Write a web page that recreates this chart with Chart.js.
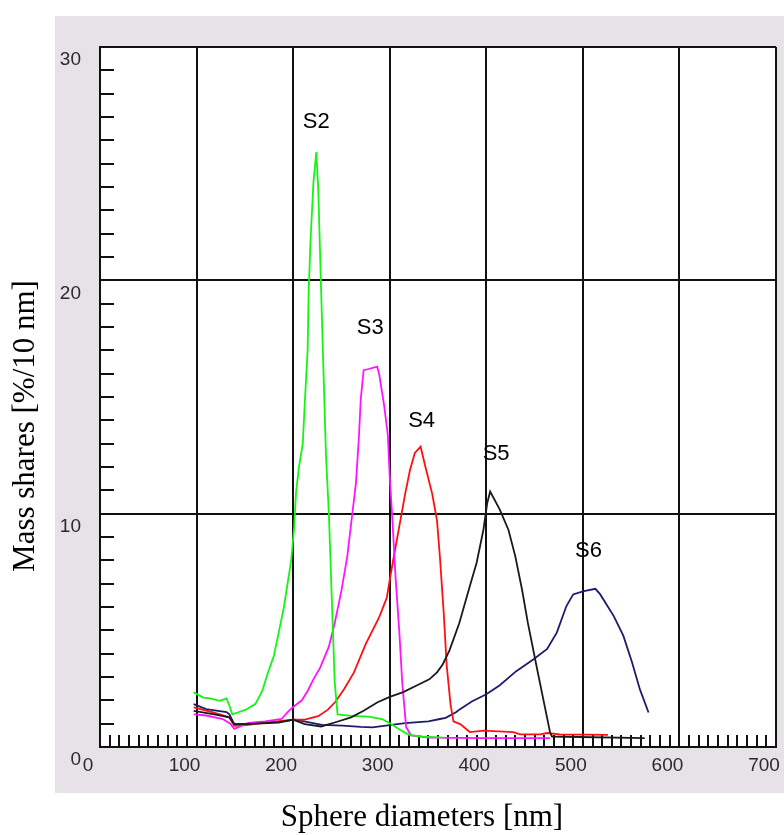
<!DOCTYPE html>
<html>
<head>
<meta charset="utf-8">
<title>Mass shares by sphere diameter</title>
<script src="https://cdn.jsdelivr.net/npm/chart.js@4"></script>
<style>
  html, body { margin: 0; padding: 0; background: #fff; }
  #sizeChart { display: block; }
</style>
</head>
<body>
<canvas id="sizeChart" width="784" height="835"></canvas>
<script>
// sample names, in drawing order (first one ends up on top)
const sampleNames = ['S5', 'S2', 'S3', 'S4', 'S6'];

// diameters [nm] and mass shares [%/10 nm] per sample
const s2Diameters = [97, 107, 114, 124, 131, 134, 137, 144, 151, 161, 168, 174, 180, 185, 190, 195, 198, 201, 203, 206, 210, 212, 215, 216, 218, 221, 224, 226, 228, 230, 232, 234, 237, 239, 241, 243, 246, 260, 278, 292, 301, 311, 320, 333, 356];
const s2Shares    = [2.34, 2.12, 2.08, 1.98, 2.08, 1.77, 1.4, 1.5, 1.6, 1.85, 2.4, 3.2, 3.9, 4.9, 5.9, 7.2, 8.0, 9.4, 10.9, 12.0, 13.0, 14.7, 17.0, 19.4, 21.7, 24.2, 25.5, 23.9, 21.0, 18.1, 15.3, 12.5, 10.0, 7.6, 5.2, 2.8, 1.4, 1.33, 1.3, 1.2, 1.0, 0.73, 0.52, 0.45, 0.4];

const s3Diameters = [97, 110, 127, 135, 139, 154, 171, 188, 195, 201, 209, 215, 221, 228, 237, 243, 250, 256, 261, 265, 268, 270, 273, 278, 287, 289, 294, 298, 300, 303, 306, 310, 313, 317, 322, 340, 400, 466];
const s3Shares    = [1.4, 1.35, 1.2, 1.0, 0.78, 1.03, 1.1, 1.2, 1.53, 1.75, 2.0, 2.4, 2.9, 3.4, 4.3, 5.3, 6.7, 8.15, 9.9, 11.3, 13.2, 14.9, 16.15, 16.2, 16.3, 16.0, 14.7, 13.4, 11.6, 9.6, 7.3, 4.9, 2.74, 0.86, 0.5, 0.4, 0.38, 0.38];

const s4Diameters = [97, 117, 134, 139, 151, 178, 200, 212, 226, 236, 244, 253, 263, 275, 289, 297, 301, 306, 311, 316, 321, 326, 332, 337, 344, 349, 352, 356, 359, 363, 366, 373, 383, 397, 428, 435, 456, 463, 476, 526];
const s4Shares    = [1.7, 1.48, 1.27, 0.91, 0.94, 1.08, 1.17, 1.17, 1.32, 1.6, 1.95, 2.5, 3.2, 4.4, 5.55, 6.4, 7.4, 8.56, 9.7, 10.85, 11.87, 12.6, 12.87, 12.0, 10.85, 9.7, 8.13, 5.7, 3.5, 1.82, 1.1, 0.98, 0.64, 0.7, 0.64, 0.54, 0.54, 0.6, 0.54, 0.52];

const s5Diameters = [97, 117, 134, 139, 151, 185, 200, 212, 229, 243, 260, 273, 287, 300, 314, 330, 341, 349, 355, 362, 372, 383, 390, 397, 401, 404, 414, 423, 430, 437, 443, 452, 459, 466, 468, 564];
const s5Shares    = [1.55, 1.41, 1.27, 0.98, 0.98, 1.05, 1.17, 0.98, 0.88, 1.05, 1.27, 1.55, 1.91, 2.15, 2.35, 2.68, 2.9, 3.2, 3.55, 4.15, 5.3, 6.9, 7.9, 9.3, 10.46, 10.95, 10.17, 9.3, 8.18, 6.75, 5.33, 3.47, 2.05, 0.63, 0.45, 0.38];

const s6Diameters = [97, 110, 131, 134, 139, 144, 185, 202, 230, 251, 270, 282, 296, 316, 340, 352, 358, 369, 372, 385, 400, 414, 431, 449, 463, 473, 483, 490, 501, 513, 518, 532, 542, 551, 559, 568];
const s6Shares    = [1.84, 1.62, 1.5, 1.4, 0.98, 0.98, 1.08, 1.17, 0.95, 0.92, 0.86, 0.84, 0.92, 1.02, 1.1, 1.2, 1.25, 1.5, 1.6, 1.95, 2.26, 2.65, 3.25, 3.76, 4.2, 4.9, 6.04, 6.54, 6.68, 6.78, 6.54, 5.61, 4.76, 3.62, 2.48, 1.48];

// axis ticks
const diameterTicks = [0, 100, 200, 300, 400, 500, 600, 700];
const shareTicks = [0, 10, 20, 30];

const sampleData = {
    S2: [s2Diameters, s2Shares],
    S3: [s3Diameters, s3Shares],
    S4: [s4Diameters, s4Shares],
    S5: [s5Diameters, s5Shares],
    S6: [s6Diameters, s6Shares]
};
const sampleColors = { S2: '#14f514', S3: '#ff14ff', S4: '#ff1010', S5: '#1a1a1a', S6: '#1c1c6e' };
// pixel nudge of each peak label, measured from the peak point
const labelNudge = { S2: [0, -30], S3: [-7, -39], S4: [1, -26], S5: [6, -38], S6: [-7, -38] };

const GRID_COLOR = '#111';
const TICK_FONT = { family: '"Liberation Sans", Arial, sans-serif', size: 19 };

function toPoints(xs, ys) {
    return xs.map((x, i) => ({ x: x, y: ys[i] }));
}

// grey panel behind the plot, white plot area on top of it
const panelPlugin = {
    id: 'panel',
    beforeDraw(chart) {
        const { ctx, chartArea: a, width } = chart;
        ctx.save();
        ctx.fillStyle = '#fff';
        ctx.fillRect(0, 0, width, chart.height);
        ctx.fillStyle = '#e7e1e8';
        ctx.fillRect(a.left - 45, a.top - 31, width - (a.left - 45), a.bottom - a.top + 77);
        ctx.fillStyle = '#fff';
        ctx.fillRect(a.left, a.top, a.right - a.left, a.bottom - a.top);
        ctx.restore();
    }
};

// small inward ticks: every 1 % on the left, every 10 nm along the bottom
const minorTicksPlugin = {
    id: 'minorTicks',
    beforeDatasetsDraw(chart) {
        const { ctx, chartArea: a, scales: { x, y } } = chart;
        ctx.save();
        ctx.strokeStyle = GRID_COLOR;
        ctx.lineWidth = 2;
        ctx.beginPath();
        for (let v = 1; v < 30; v++) {
            if (v % 10 === 0) continue;
            const py = Math.round(y.getPixelForValue(v));
            ctx.moveTo(a.left, py);
            ctx.lineTo(a.left + 14, py);
        }
        for (let d = 10; d < 700; d += 10) {
            if (d % 100 === 0) continue;
            const px = Math.round(x.getPixelForValue(d));
            ctx.moveTo(px, a.bottom);
            ctx.lineTo(px, a.bottom - 12);
        }
        ctx.stroke();
        ctx.restore();
    }
};

// sample name above each peak
const peakLabelPlugin = {
    id: 'peakLabels',
    afterDatasetsDraw(chart) {
        const { ctx, scales: { x, y } } = chart;
        ctx.save();
        ctx.font = '22px "Liberation Sans", Arial, sans-serif';
        ctx.fillStyle = '#000';
        ctx.textAlign = 'center';
        ctx.textBaseline = 'middle';
        sampleNames.forEach(name => {
            const [xs, ys] = sampleData[name];
            let k = 0;
            ys.forEach((v, i) => { if (v > ys[k]) k = i; });
            const [dx, dy] = labelNudge[name];
            ctx.fillText(name, x.getPixelForValue(xs[k]) + dx, y.getPixelForValue(ys[k]) + dy);
        });
        ctx.restore();
    }
};

// axis titles in serif type
const axisTitlePlugin = {
    id: 'axisTitles',
    afterDraw(chart) {
        const { ctx } = chart;
        ctx.save();
        ctx.font = '31px "Liberation Serif", "Times New Roman", serif';
        ctx.fillStyle = '#000';
        ctx.textAlign = 'center';
        ctx.textBaseline = 'middle';
        ctx.fillText('Sphere diameters [nm]', 422, 818);
        ctx.translate(26, 426);
        ctx.rotate(-Math.PI / 2);
        ctx.fillText('Mass shares [%/10 nm]', 0, 0);
        ctx.restore();
    }
};

let sizeChart = new Chart(document.querySelector('#sizeChart'), {
    type: 'line',
    data: {
        datasets: sampleNames.map(name => ({
            label: name,
            data: toPoints(sampleData[name][0], sampleData[name][1]),
            borderColor: sampleColors[name],
            borderWidth: 1.8,
            pointRadius: 0,
            tension: 0,
            fill: false
        }))
    },
    options: {
        responsive: false,
        animation: false,
        devicePixelRatio: 1,
        layout: { padding: { top: 47, right: 8, left: 0, bottom: 0 } },
        plugins: {
            legend: { display: false },
            tooltip: { enabled: false }
        },
        scales: {
            x: {
                type: 'linear',
                min: 0,
                max: 700,
                afterFit(scale) {
                    scale.height = 88;
                    scale.paddingLeft = 0;
                    scale.paddingRight = 0;
                },
                afterBuildTicks(scale) {
                    scale.ticks = diameterTicks.map(v => ({ value: v }));
                },
                ticks: {
                    labelOffset: -12,
                    padding: 7,
                    maxRotation: 0,
                    autoSkip: false,
                    color: '#2a2a2a',
                    font: TICK_FONT
                },
                grid: { color: GRID_COLOR, lineWidth: 2, drawTicks: false },
                border: { color: GRID_COLOR, width: 2 }
            },
            y: {
                type: 'linear',
                min: 0,
                max: 30,
                afterFit(scale) {
                    scale.width = 100;
                    scale.paddingTop = 0;
                    scale.paddingBottom = 0;
                },
                afterBuildTicks(scale) {
                    scale.ticks = shareTicks.map(v => ({ value: v }));
                },
                ticks: {
                    labelOffset: 13,
                    padding: 19,
                    color: '#2a2a2a',
                    font: TICK_FONT
                },
                grid: { color: GRID_COLOR, lineWidth: 2, drawTicks: false },
                border: { color: GRID_COLOR, width: 2 }
            }
        }
    },
    plugins: [panelPlugin, minorTicksPlugin, peakLabelPlugin, axisTitlePlugin]
});
</script>
</body>
</html>
